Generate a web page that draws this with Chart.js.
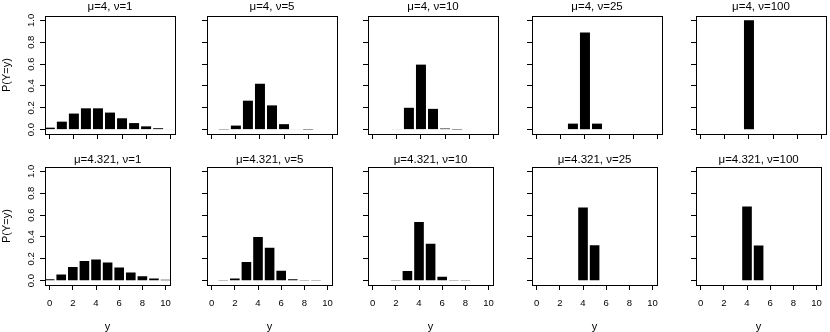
<!DOCTYPE html>
<html>
<head>
<meta charset="utf-8">
<script src="https://cdn.jsdelivr.net/npm/chart.js@4.4.1/dist/chart.umd.min.js"></script>
<style>
  html, body { margin: 0; padding: 0; background: #fff; }
  #wrap { position: relative; width: 830px; height: 332px; overflow: hidden; }
  canvas { position: absolute; }
</style>
</head>
<body>
<div id="wrap"></div>
<script>
// Valores de y (conteos) y probabilidades
const counts = [0, 1, 2, 3, 4, 5, 6, 7, 8, 9, 10];
const muValues = ["4", "4.321"];
const nuValues = [1, 5, 10, 25, 100];

// fila superior: mu = 4
const pmfMu4Nu1   = [0.018, 0.073, 0.147, 0.195, 0.195, 0.156, 0.104, 0.060, 0.030, 0.013, 0.005];
const pmfMu4Nu5   = [0, 0.002, 0.037, 0.265, 0.420, 0.222, 0.050, 0.005, 0.001, 0, 0];
const pmfMu4Nu10  = [0, 0, 0.004, 0.200, 0.595, 0.190, 0.010, 0.001, 0, 0, 0];
const pmfMu4Nu25  = [0, 0, 0, 0.055, 0.890, 0.055, 0, 0, 0, 0, 0];
const pmfMu4Nu100 = [0, 0, 0, 0, 1.000, 0, 0, 0, 0, 0, 0];

// fila inferior: mu = 4.321
const pmfMu4321Nu1   = [0.013, 0.057, 0.124, 0.179, 0.193, 0.167, 0.120, 0.074, 0.040, 0.019, 0.008];
const pmfMu4321Nu5   = [0, 0.002, 0.020, 0.170, 0.400, 0.300, 0.090, 0.012, 0.002, 0.002, 0];
const pmfMu4321Nu10  = [0, 0, 0.002, 0.088, 0.537, 0.338, 0.035, 0.002, 0.002, 0, 0];
const pmfMu4321Nu25  = [0, 0, 0, 0.004, 0.670, 0.323, 0.003, 0, 0, 0, 0];
const pmfMu4321Nu100 = [0, 0, 0, 0, 0.679, 0.321, 0, 0, 0, 0, 0];

const rows = [
    [pmfMu4Nu1, pmfMu4Nu5, pmfMu4Nu10, pmfMu4Nu25, pmfMu4Nu100],
    [pmfMu4321Nu1, pmfMu4321Nu5, pmfMu4321Nu10, pmfMu4321Nu25, pmfMu4321Nu100]
];

// posicion de cada recuadro (px)
const boxLeft = [45, 207, 368, 532, 696];
const boxTop = [16, 167];
const boxW = 130, boxH = 118;
const padL = 46, padR = 4, padT = 16;
const bottomH = [10, 47];
const titleGap = [9, 7];

const FONT = '"Liberation Sans", Arial, Helvetica, sans-serif';

// Dibuja el recuadro, titulo y etiquetas de R
const panelText = {
    id: 'panelText',
    afterDraw(chart, args, opts) {
        const ctx = chart.ctx;
        const a = chart.chartArea;
        const yScale = chart.scales.y;
        ctx.save();
        ctx.strokeStyle = '#000';
        ctx.lineWidth = 1;
        ctx.strokeRect(Math.round(a.left) + 0.5, Math.round(a.top) + 0.5,
            Math.round(a.right - a.left), Math.round(a.bottom - a.top));

        ctx.fillStyle = '#000';
        ctx.textAlign = 'center';
        ctx.textBaseline = 'middle';
        ctx.font = '11.5px ' + FONT;
        ctx.fillText(opts.title, (a.left + a.right) / 2, a.top - opts.titleGap);

        if (opts.firstCol) {
            // etiquetas del eje y giradas
            ctx.font = '9.5px ' + FONT;
            yScale.ticks.forEach(t => {
                const py = yScale.getPixelForValue(t.value);
                ctx.save();
                ctx.translate(a.left - 13.5, py);
                ctx.rotate(-Math.PI / 2);
                ctx.fillText(t.value.toFixed(1), 0, 0);
                ctx.restore();
            });
            ctx.font = '11px ' + FONT;
            ctx.save();
            ctx.translate(a.left - 38, (a.top + a.bottom) / 2);
            ctx.rotate(-Math.PI / 2);
            ctx.fillText('P(Y=y)', 0, 0);
            ctx.restore();
        }
        if (opts.lastRow) {
            ctx.font = '11px ' + FONT;
            ctx.fillText('y', (a.left + a.right) / 2, a.bottom + 42);
        }
        ctx.restore();
    }
};

const wrap = document.getElementById('wrap');

rows.forEach((row, r) => {
    row.forEach((pmf, c) => {
        const canvas = document.createElement('canvas');
        const w = padL + boxW + padR;
        const h = padT + boxH + bottomH[r];
        canvas.width = w;
        canvas.height = h;
        canvas.style.left = (boxLeft[c] - padL) + 'px';
        canvas.style.top = (boxTop[r] - padT) + 'px';
        wrap.appendChild(canvas);

        new Chart(canvas.getContext('2d'), {
            type: 'bar',
            data: {
                labels: counts,
                datasets: [{
                    data: pmf,
                    backgroundColor: '#000',
                    borderWidth: 0,
                    barPercentage: 0.83,
                    categoryPercentage: 1
                }]
            },
            options: {
                responsive: false,
                animation: false,
                devicePixelRatio: 1,
                layout: { padding: { left: 0, right: padR, top: padT, bottom: 0 } },
                plugins: {
                    legend: { display: false },
                    tooltip: { enabled: false },
                    panelText: {
                        title: '\u03bc=' + muValues[r] + ', \u03bd=' + nuValues[c],
                        titleGap: titleGap[r],
                        firstCol: c === 0,
                        lastRow: r === 1
                    }
                },
                scales: {
                    x: {
                        type: 'linear',
                        min: -0.4,
                        max: 10.4,
                        offset: false,
                        border: { display: false },
                        grid: { offset: false, drawOnChartArea: false, drawTicks: true, tickLength: 5, color: '#000' },
                        ticks: {
                            display: r === 1,
                            stepSize: 2,
                            includeBounds: false,
                            padding: 8,
                            color: '#000',
                            maxRotation: 0,
                            autoSkip: false,
                            font: { family: FONT, size: 9.5 }
                        },
                        afterFit: s => { s.height = bottomH[r]; }
                    },
                    y: {
                        min: -0.04,
                        max: 1.04,
                        border: { display: false },
                        grid: { drawOnChartArea: false, drawTicks: true, tickLength: 5, color: '#000' },
                        ticks: { display: false, stepSize: 0.2, includeBounds: false },
                        afterFit: s => { s.width = padL; }
                    }
                }
            },
            plugins: [panelText]
        });
    });
});
</script>
</body>
</html>
